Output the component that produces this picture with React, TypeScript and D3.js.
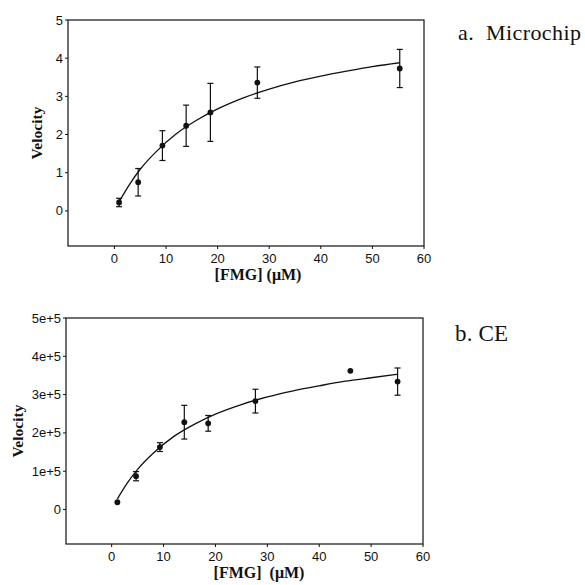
import React from 'react';
import * as d3 from 'd3';

// panel a: microchip
const chipConc = [0.9, 4.6, 9.3, 13.9, 18.6, 27.7, 55.3];
const chipVel = [0.22, 0.75, 1.71, 2.23, 2.58, 3.36, 3.73];
const chipSd = [0.11, 0.36, 0.39, 0.54, 0.76, 0.41, 0.5];
const chipFitX = [0.9, 3, 5, 8, 12, 16, 20, 25, 30, 35, 40, 45, 50, 55.3];
const chipFitY = [0.24, 0.71, 1.09, 1.54, 2.02, 2.38, 2.67, 2.96, 3.19, 3.38, 3.53, 3.66, 3.78, 3.88];
const chipTicksY = [0, 1, 2, 3, 4, 5];

// panel b: CE
const ceConc = [1.1, 4.7, 9.3, 14.0, 18.6, 27.7, 46.0, 55.1];
const ceVel = [19000, 87000, 163000, 228000, 225000, 283000, 362000, 334000];
const ceSd = [0, 12000, 11500, 44000, 20500, 31000, 0, 35500];
const ceFitX = [1.1, 3, 5, 8, 12, 16, 20, 25, 30, 35, 40, 45, 50, 55.1];
const ceFitY = [28000, 69000, 105000, 147000, 191000, 223000, 249000, 274000, 294000, 310000, 323000, 335000, 344000, 353000];
const ceTicksY = [0, 100000, 200000, 300000, 400000, 500000];
const ceTickLabels = ['0', '1e+5', '2e+5', '3e+5', '4e+5', '5e+5'];

const ticksX = [0, 10, 20, 30, 40, 50, 60];

const tickFont = "'Liberation Sans Narrow', 'Liberation Sans', Arial, sans-serif";
const serif = "'Liberation Serif', 'Times New Roman', serif";

type PanelProps = {
  left: number; top: number; right: number; bottom: number;
  xDomain: [number, number]; yDomain: [number, number];
  conc: number[]; vel: number[]; sd: number[];
  fitX: number[]; fitY: number[];
  yTicks: number[]; yLabels: string[];
  xLabel: string; xLabelX: number; yLabelX: number;
  title: string; titleX: number; titleY: number; titleSize: number; titleLen: number;
};

const Panel = (p: PanelProps) => {
  const x = d3.scaleLinear().domain(p.xDomain).range([p.left, p.right]);
  const y = d3.scaleLinear().domain(p.yDomain).range([p.bottom, p.top]);
  const line = d3.line<number>()
    .x((d) => x(d))
    .y((_, i) => y(p.fitY[i]))
    .curve(d3.curveMonotoneX);
  const midY = (p.top + p.bottom) / 2;

  return (
    <g>
      <rect x={p.left} y={p.top} width={p.right - p.left} height={p.bottom - p.top}
        fill="none" stroke="#111" strokeWidth={1.2} />
      {p.yTicks.map((t, i) => (
        <g key={'y' + i}>
          <line x1={p.left - 3} x2={p.left} y1={y(t)} y2={y(t)} stroke="#111" strokeWidth={1} />
          <text x={p.left - 5} y={y(t)} dy="0.35em" textAnchor="end"
            fontFamily={tickFont} fontSize={13} fill="#111">{p.yLabels[i]}</text>
        </g>
      ))}
      {ticksX.map((t) => (
        <g key={'x' + t}>
          <line x1={x(t)} x2={x(t)} y1={p.bottom} y2={p.bottom + 3} stroke="#111" strokeWidth={1} />
          <text x={x(t)} y={p.bottom + 17} textAnchor="middle"
            fontFamily={tickFont} fontSize={13} fill="#111">{t}</text>
        </g>
      ))}
      <path d={line(p.fitX) || ''} fill="none" stroke="#111" strokeWidth={1.3} />
      {p.conc.map((c, i) => (
        <g key={'p' + i}>
          {p.sd[i] > 0 && (
            <g stroke="#111" strokeWidth={1.2}>
              <line x1={x(c)} x2={x(c)} y1={y(p.vel[i] + p.sd[i])} y2={y(p.vel[i] - p.sd[i])} />
              <line x1={x(c) - 3} x2={x(c) + 3} y1={y(p.vel[i] + p.sd[i])} y2={y(p.vel[i] + p.sd[i])} />
              <line x1={x(c) - 3} x2={x(c) + 3} y1={y(p.vel[i] - p.sd[i])} y2={y(p.vel[i] - p.sd[i])} />
            </g>
          )}
          <circle cx={x(c)} cy={y(p.vel[i])} r={2.9} fill="#111" />
        </g>
      ))}
      <text transform={`translate(${p.yLabelX},${midY}) rotate(-90)`} dy="0.35em" textAnchor="middle"
        fontFamily={serif} fontWeight="bold" fontSize={15.5} fill="#111">Velocity</text>
      <text x={p.xLabelX} y={p.bottom + 34} textAnchor="middle"
        fontFamily={serif} fontWeight="bold" fontSize={16} fill="#111"
        style={{ whiteSpace: 'pre' }}>{p.xLabel}</text>
      <text x={p.titleX} y={p.titleY} fontFamily={serif} fontSize={p.titleSize} fill="#111"
        textLength={p.titleLen} lengthAdjust="spacing" style={{ whiteSpace: 'pre' }}>{p.title}</text>
    </g>
  );
};

export default function App() {
  return (
    <svg width={585} height={585} style={{ position: 'absolute', left: 0, top: 0, background: '#fff' }}>
      <Panel left={68} top={20} right={424} bottom={246}
        xDomain={[-9, 60]} yDomain={[-0.92, 5]}
        conc={chipConc} vel={chipVel} sd={chipSd}
        fitX={chipFitX} fitY={chipFitY}
        yTicks={chipTicksY} yLabels={chipTicksY.map(String)}
        xLabel="[FMG] (μM)" xLabelX={258} yLabelX={37}
        title="a.  Microchip" titleX={458} titleY={40} titleSize={22} titleLen={123} />
      <Panel left={66} top={318} right={423} bottom={544}
        xDomain={[-8.8, 60]} yDomain={[-90000, 500000]}
        conc={ceConc} vel={ceVel} sd={ceSd}
        fitX={ceFitX} fitY={ceFitY}
        yTicks={ceTicksY} yLabels={ceTickLabels}
        xLabel="[FMG]  (μM)" xLabelX={259} yLabelX={18}
        title="b. CE" titleX={455} titleY={341} titleSize={23} titleLen={53} />
    </svg>
  );
}
